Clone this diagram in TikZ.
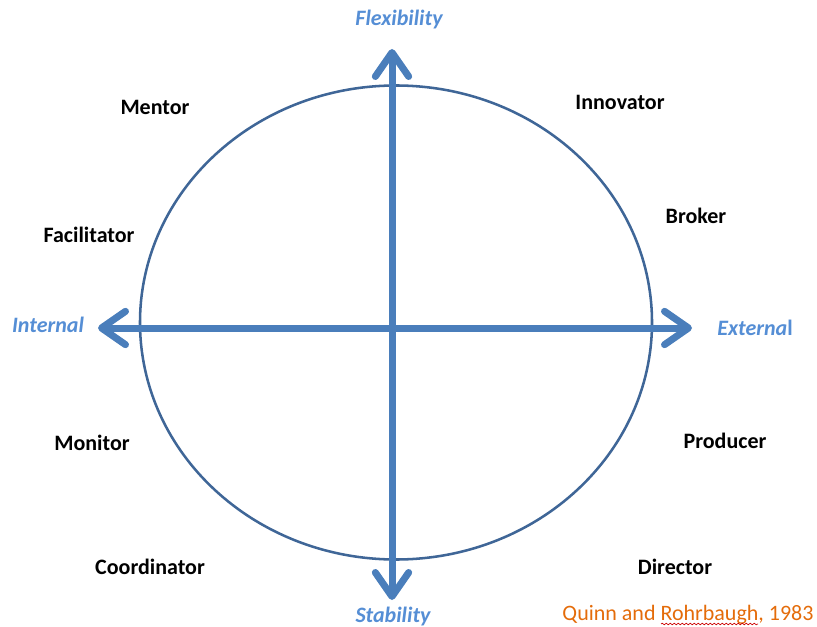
\documentclass[tikz,border=0pt]{standalone}
\usepackage{fontspec}
\setmainfont{Carlito}
\usetikzlibrary{arrows.meta,decorations.pathmorphing}
\definecolor{axisblue}{HTML}{4A7EBB}
\definecolor{ringblue}{HTML}{3F6697}
\definecolor{labelblue}{HTML}{558ED5}
\definecolor{citeorange}{HTML}{E46C0A}
\begin{document}
\begin{tikzpicture}[x=0.75pt,y=-0.75pt,
  role/.style={font=\fontsize{16.5}{18}\selectfont\bfseries, text=black, inner sep=0pt},
  axislabel/.style={font=\fontsize{16.5}{18}\selectfont\bfseries\itshape, text=labelblue, inner sep=0pt},
  axis/.style={draw=axisblue, line width=5.25pt,
    -{Straight Barb[length=18pt,width=25pt,line cap=round,line join=round]}},
  ring/.style={draw=ringblue, line width=1.9pt}]
\useasboundingbox (0,0) rectangle (817,627);

% the ring
\draw[ring] (396,322.5) ellipse [x radius=256, y radius=237];

% axis end points
\coordinate (o) at (392,328);
\coordinate (left) at (98,328);
\coordinate (right) at (692,328);
\coordinate (top) at (392,49);
\coordinate (bottom) at (392,600);

\draw[axis] (o) -- (left);
\draw[axis] (o) -- (right);
\draw[axis] (o) -- (top);
\draw[axis] (o) -- (bottom);

% axis labels
\node[axislabel] (flex) at (399,20) {Flexibility};
\node[axislabel] (stab) at (393,617) {Stability};
\node[axislabel] (int) at (48,325) {Internal};
\node[axislabel] (ext) at (755,328) {Externa{\upshape l}};

% roles
\node[role] (mentor) at (155,107) {Mentor};
\node[role] (innov) at (620,102) {Innovator};
\node[role] (facil) at (89,235) {Facilitator};
\node[role] (broker) at (696,216) {Broker};
\node[role] (monitor) at (92,443) {Monitor};
\node[role] (producer) at (725,441) {Producer};
\node[role] (coord) at (150,567) {Coordinator};
\node[role] (director) at (675,567) {Director};

% citation
\node[font=\fontsize{16.5}{18}\selectfont, text=citeorange, inner sep=0pt] (cite) at (688,615) {Quinn and Rohrbaugh, 1983};
\draw[red!80!black, line width=0.5pt, decorate,
  decoration={snake, amplitude=0.6pt, segment length=3pt}]
  (661,624) -- (758,624);
\end{tikzpicture}
\end{document}
